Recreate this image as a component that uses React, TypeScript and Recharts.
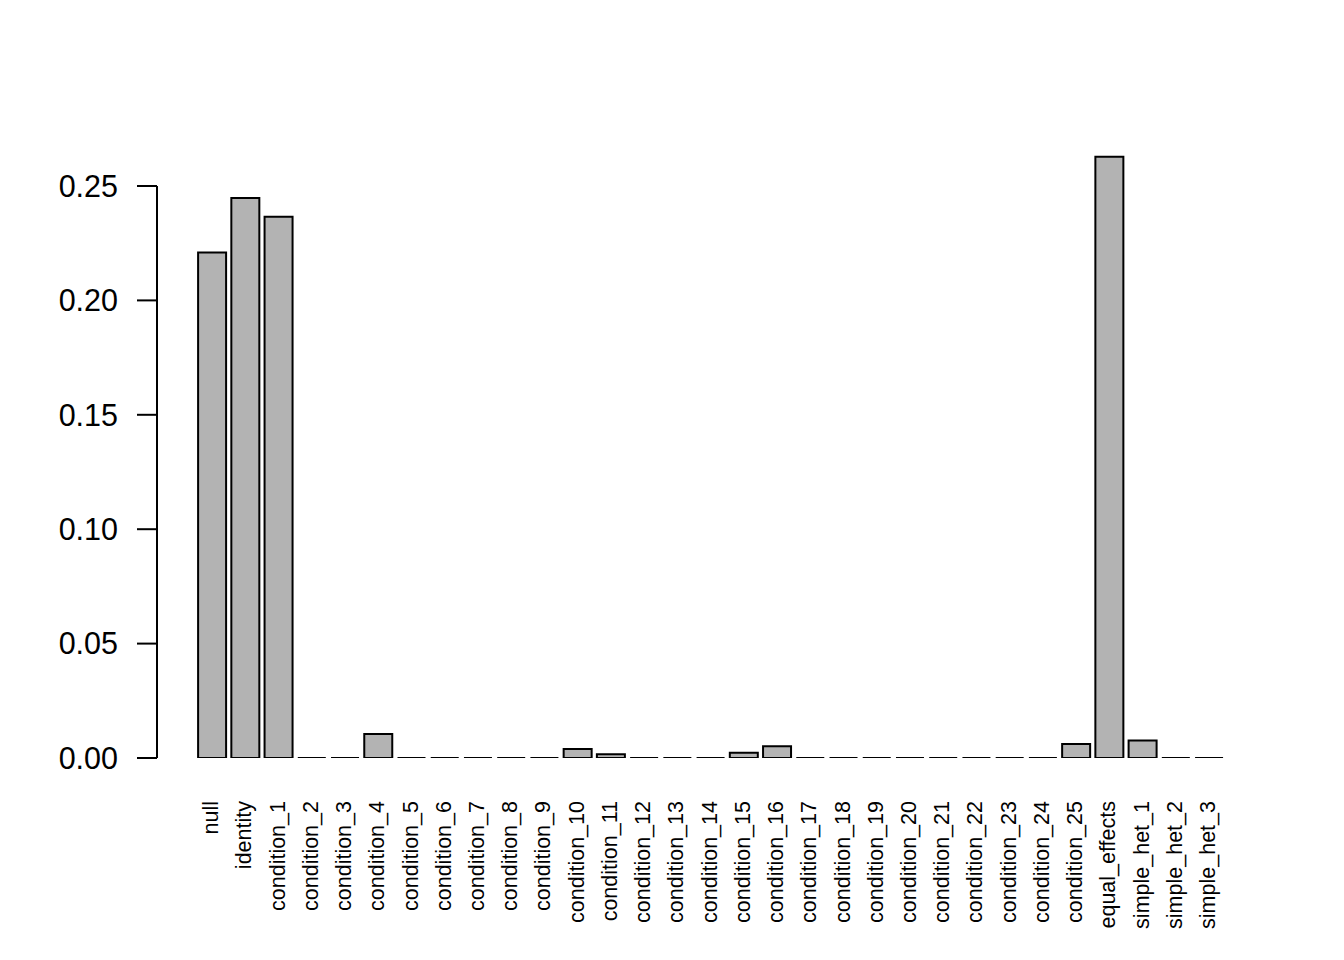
import React from "react";
import { BarChart, Bar, XAxis, YAxis } from "recharts";

const categories = [
  "null", "identity",
  "condition_1", "condition_2", "condition_3", "condition_4", "condition_5",
  "condition_6", "condition_7", "condition_8", "condition_9", "condition_10",
  "condition_11", "condition_12", "condition_13", "condition_14", "condition_15",
  "condition_16", "condition_17", "condition_18", "condition_19", "condition_20",
  "condition_21", "condition_22", "condition_23", "condition_24", "condition_25",
  "equal_effects", "simple_het_1", "simple_het_2", "simple_het_3",
];

const values = [
  0.221, 0.2448,
  0.2366, 0, 0, 0.0105, 0,
  0, 0, 0, 0, 0.0039,
  0.0016, 0, 0, 0, 0.0023,
  0.0051, 0, 0, 0, 0,
  0, 0, 0, 0, 0.0061,
  0.2628, 0.0076, 0, 0,
];

const yTicks = [0, 0.05, 0.1, 0.15, 0.2, 0.25];

const data = categories.map((name, i) => ({ name, value: values[i] }));

const FONT = "'Liberation Sans', Arial, Helvetica, sans-serif";
const W = 1344;
const H = 960;

const BarShape = (props: any) => {
  const { x, y, width, height } = props;
  const d = `M${x},${y}h${width}v${height}h${-width}Z`;
  return <path d={d} fill="#B3B3B3" stroke="#000" strokeWidth={2} />;
};

const EmptyShape = () => <g />;

const XTick = (props: any) => {
  const { x, y, payload } = props;
  return (
    <text
      x={x}
      y={y}
      transform={`rotate(-90, ${x}, ${y})`}
      textAnchor="end"
      dy="0.3em"
      fontFamily={FONT}
      fontSize={21.5}
      fill="#000"
    >
      {payload.value}
    </text>
  );
};

export default function App() {
  return (
    <div style={{ position: "absolute", left: 0, top: 0, width: W, height: H, background: "#fff" }}>
      <div style={{ position: "absolute", left: 0, top: 0 }}>
        <BarChart
          width={W}
          height={H}
          data={data}
          margin={{ top: 117.4, right: 118.7, bottom: 0, left: 195.1 }}
          barCategoryGap={0}
        >
          <XAxis
            dataKey="name"
            interval={0}
            axisLine={false}
            tickLine={false}
            tickSize={0}
            tickMargin={43}
            height={202}
            tick={<XTick />}
          />
          <YAxis hide type="number" domain={[0, 0.28]} allowDataOverflow />
          <Bar dataKey="value" barSize={28} shape={<BarShape />} isAnimationActive={false} />
        </BarChart>
      </div>
      <div style={{ position: "absolute", left: 0, top: 0 }}>
        <BarChart
          width={W}
          height={H}
          data={data}
          margin={{ top: 186, right: 118.7, bottom: 202, left: 0 }}
        >
          <XAxis dataKey="name" hide />
          <YAxis
            type="number"
            domain={[0, 0.25]}
            allowDataOverflow
            ticks={yTicks}
            interval={0}
            width={157}
            tickSize={20}
            tickMargin={19}
            axisLine={{ stroke: "#000", strokeWidth: 2 }}
            tickLine={{ stroke: "#000", strokeWidth: 2 }}
            tickFormatter={(v: number) => v.toFixed(2)}
            tick={{ fill: "#000", fontSize: 30.5, fontFamily: FONT }}
          />
          <Bar dataKey="value" shape={<EmptyShape />} isAnimationActive={false} />
        </BarChart>
      </div>
    </div>
  );
}
